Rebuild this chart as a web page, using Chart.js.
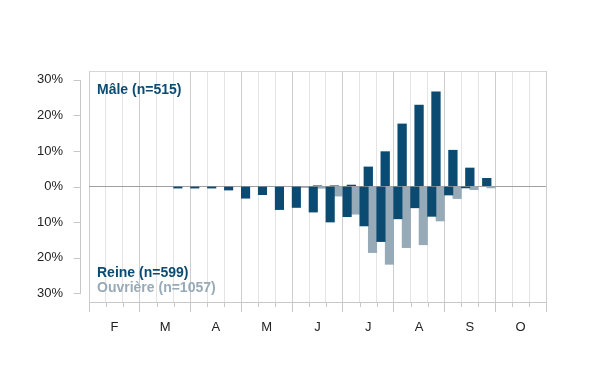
<!DOCTYPE html>
<html>
<head>
<meta charset="utf-8">
<script src="https://cdn.jsdelivr.net/npm/chart.js@4.4.1/dist/chart.umd.min.js"></script>
<style>
    html, body { margin: 0; padding: 0; background: #fff; }
    #wrap { width: 600px; height: 390px; }
</style>
</head>
<body>
<div id="wrap"><canvas id="chart" width="600" height="390"></canvas></div>
<script>
// mois (axe x) et décades (3 par mois)
const months = ['F', 'M', 'A', 'M', 'J', 'J', 'A', 'S', 'O'];
const decades = months.flatMap(m => [m + '1', m + '2', m + '3']);

// % des individus par décade
const male = [0, 0, 0, 0, 0, 0, 0, 0, 0, 0, 0, 0, 0, 0.3, 0.3, 0.5, 5.6, 9.9, 17.7, 23.0, 26.7, 10.3, 5.3, 2.4, 0, 0, 0];
const reine = [0, 0, 0, 0, 0, 0.45, 0.45, 0.45, 1.0, 3.3, 2.3, 6.5, 5.9, 7.2, 10.0, 8.5, 11.1, 15.5, 9.1, 6.0, 8.4, 2.4, 0.4, 0, 0, 0, 0];
const ouvriere = [0, 0, 0, 0, 0, 0, 0, 0, 0, 0, 0, 0, 0.3, 0.5, 2.7, 7.8, 18.6, 21.9, 17.2, 16.4, 9.7, 3.4, 0.9, 0.4, 0, 0, 0];

const yTicks = [-30, -20, -10, 0, 10, 20, 30];

const dark = '#0b4b72';
const gray = '#97aab8';
const font = '"Liberation Sans", Arial, sans-serif';

// axe y décalé, petites graduations et textes
const decor = {
    id: 'decor',
    afterDraw(chart) {
        const ctx = chart.ctx;
        const a = chart.chartArea;
        const xs = chart.scales.x;
        const ys = chart.scales.y;
        ctx.save();
        ctx.lineWidth = 1;
        ctx.strokeStyle = '#d6d6d6';
        ctx.beginPath();
        ctx.moveTo(a.left, a.top + 0.5);
        ctx.lineTo(a.right, a.top + 0.5);
        ctx.stroke();

        ctx.strokeStyle = '#c8c8c8';
        ctx.beginPath();
        const ax = Math.round(a.left - 9) + 0.5;
        ctx.moveTo(ax, ys.getPixelForValue(30));
        ctx.lineTo(ax, ys.getPixelForValue(-30) + 1);
        yTicks.forEach(v => {
            const py = Math.round(ys.getPixelForValue(v)) + 0.5;
            ctx.moveTo(ax - 7, py);
            ctx.lineTo(ax, py);
        });
        const step = xs.getPixelForValue(1) - xs.getPixelForValue(0);
        for (let i = 0; i < decades.length; i++) {
            if (i % 3 === 0) continue;
            const px = Math.round(xs.getPixelForValue(i) - step / 2) + 0.5;
            ctx.moveTo(px, a.bottom);
            ctx.lineTo(px, a.bottom + 5);
        }
        ctx.stroke();

        ctx.font = 'bold 14px ' + font;
        ctx.textBaseline = 'alphabetic';
        ctx.fillStyle = dark;
        ctx.fillText('Mâle (n=515)', a.left + 8, 94);
        ctx.fillText('Reine (n=599)', a.left + 8, 276.5);
        ctx.fillStyle = gray;
        ctx.fillText('Ouvrière (n=1057)', a.left + 8, 291.5);
        ctx.restore();
    }
};

new Chart(document.getElementById('chart').getContext('2d'), {
    type: 'bar',
    data: {
        labels: decades,
        datasets: [
            {
                label: 'Reine',
                data: reine.map(v => v ? -v : null),
                backgroundColor: dark,
                barPercentage: 1,
                categoryPercentage: 1
            },
            {
                label: 'Ouvrière',
                data: ouvriere.map(v => v ? -v : null),
                backgroundColor: gray,
                barPercentage: 1,
                categoryPercentage: 1
            },
            {
                label: 'Mâle',
                data: male.map(v => v || null),
                backgroundColor: dark,
                grouped: false,
                barPercentage: 0.55,
                categoryPercentage: 1
            }
        ]
    },
    options: {
        responsive: false,
        animation: false,
        layout: { padding: { top: 71, right: 54, left: 0, bottom: 0 } },
        plugins: { legend: { display: false }, tooltip: { enabled: false } },
        scales: {
            x: {
                type: 'category',
                offset: true,
                afterFit: s => { s.height = 88; },
                border: { display: true, color: '#c8c8c8' },
                grid: {
                    offset: true,
                    drawTicks: true,
                    tickLength: 10,
                    color: c => (c.index === undefined || c.index % 3 === 0) ? '#cdcdcd' : '#e4e4e4',
                    tickColor: c => (c.index === undefined || c.index % 3 === 0) ? '#c8c8c8' : 'rgba(0,0,0,0)'
                },
                ticks: {
                    autoSkip: false,
                    maxRotation: 0,
                    padding: 8,
                    color: '#222',
                    font: { family: font, size: 13 },
                    callback: (v, i) => i % 3 === 1 ? months[Math.floor(i / 3)] : ''
                }
            },
            y: {
                min: -32.5,
                max: 32.5,
                afterFit: s => { s.width = 89; },
                afterBuildTicks: s => { s.ticks = yTicks.map(v => ({ value: v })); },
                border: { display: false },
                grid: {
                    drawTicks: false,
                    color: c => c.tick && c.tick.value === 0 ? '#a0a0a0' : 'rgba(0,0,0,0)'
                },
                ticks: {
                    padding: 26,
                    color: '#222',
                    font: { family: font, size: 13 },
                    callback: v => Math.abs(v) + '%'
                }
            }
        }
    },
    plugins: [decor]
});
</script>
</body>
</html>
